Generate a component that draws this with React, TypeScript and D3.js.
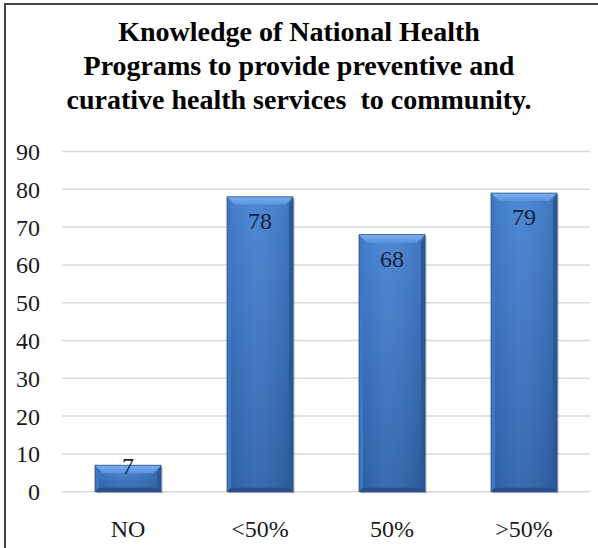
import React from "react";
import * as d3 from "d3";

const categories: string[] = ["NO", "<50%", "50%", ">50%"];
const values: number[] = [7, 78, 68, 79];
const yTicks: number[] = [0, 10, 20, 30, 40, 50, 60, 70, 80, 90];
const titleLines: string[] = [
  "Knowledge of National Health",
  "Programs to provide preventive and",
  "curative health services  to community.",
];

const W = 598;
const H = 548;
const plot = { left: 62, right: 590, top: 151.5, bottom: 491.7 };
const serif = "Liberation Serif, Times New Roman, serif";

export default function App() {
  const x = d3
    .scaleBand<string>()
    .domain(categories)
    .range([plot.left, plot.right])
    .paddingInner(0.5)
    .paddingOuter(0.25);
  const y = d3.scaleLinear().domain([0, 90]).range([plot.bottom, plot.top]);
  const bw = x.bandwidth();

  return (
    <svg
      width={W}
      height={H}
      style={{ position: "fixed", left: 0, top: 0, background: "#fff" }}
    >
      <defs>
        <linearGradient id="face" x1="0" y1="0" x2="0" y2="1">
          <stop offset="0" stopColor="#4583d3" />
          <stop offset="1" stopColor="#2f63ab" />
        </linearGradient>
        <linearGradient id="faceH" x1="0" y1="0" x2="1" y2="0">
          <stop offset="0" stopColor="#000" stopOpacity="0.06" />
          <stop offset="0.4" stopColor="#fff" stopOpacity="0.05" />
          <stop offset="1" stopColor="#000" stopOpacity="0.12" />
        </linearGradient>
        <linearGradient id="topBevel" x1="0" y1="0" x2="0" y2="1">
          <stop offset="0" stopColor="#7db2f2" />
          <stop offset="1" stopColor="#5892de" />
        </linearGradient>
      </defs>

      {/* frame */}
      <rect x={5} y={4} width={700} height={700} fill="none" stroke="#444" strokeWidth={2} />

      {/* title */}
      {titleLines.map((t, i) => (
        <text
          key={i}
          x={W / 2}
          y={41 + i * 34}
          textAnchor="middle"
          fontFamily={serif}
          fontWeight="bold"
          fontSize={28}
          fill="#000"
          style={{ whiteSpace: "pre" }}
        >
          {t}
        </text>
      ))}

      {/* grid and y labels */}
      {yTicks.map((t) => (
        <g key={t}>
          <line
            x1={plot.left}
            x2={plot.right}
            y1={y(t)}
            y2={y(t)}
            stroke="#d9d9d9"
            strokeWidth={1.5}
          />
          <text
            x={40}
            y={y(t)}
            dy="0.35em"
            textAnchor="end"
            fontFamily={serif}
            fontSize={24}
            fill="#1a1a1a"
          >
            {t}
          </text>
        </g>
      ))}

      {/* bars */}
      {categories.map((c, i) => {
        const v = values[i];
        const x0 = x(c)!;
        const x1 = x0 + bw;
        const y0 = y(v);
        const y1 = y(0);
        const bt = 8;
        const bs = 4;
        const bb = 4;
        const h = y1 - y0;
        const labelY = h < 40 ? y0 : y0 + 24;
        return (
          <g key={c}>
            <rect x={x0 + 1.5} y={y0 + 1.5} width={bw} height={h} fill="#1c3350" opacity={0.35} />
            <rect x={x0} y={y0} width={bw} height={h} fill="url(#face)" />
            <rect x={x0} y={y0} width={bw} height={h} fill="url(#faceH)" />
            {/* left bevel */}
            <polygon
              points={`${x0},${y0} ${x0 + bs},${y0 + bt} ${x0 + bs},${y1 - bb} ${x0},${y1}`}
              fill="#3f77c2"
            />
            {/* right bevel */}
            <polygon
              points={`${x1},${y0} ${x1 - bs},${y0 + bt} ${x1 - bs},${y1 - bb} ${x1},${y1}`}
              fill="#2a5898"
            />
            {/* bottom bevel */}
            <polygon
              points={`${x0},${y1} ${x0 + bs},${y1 - bb} ${x1 - bs},${y1 - bb} ${x1},${y1}`}
              fill="#26508c"
            />
            {/* top bevel */}
            <polygon
              points={`${x0},${y0} ${x1},${y0} ${x1 - bt},${y0 + bt} ${x0 + bt},${y0 + bt}`}
              fill="url(#topBevel)"
            />
            <rect x={x0} y={y0} width={bw} height={h} fill="none" stroke="#2a4f82" strokeWidth={0.8} />
            <text
              x={x0 + bw / 2}
              y={labelY}
              dy="0.35em"
              textAnchor="middle"
              fontFamily={serif}
              fontSize={24}
              fill="#152238"
            >
              {v}
            </text>
          </g>
        );
      })}

      {/* category labels */}
      {categories.map((c) => (
        <text
          key={c}
          x={x(c)! + bw / 2}
          y={529}
          dy="0.35em"
          textAnchor="middle"
          fontFamily={serif}
          fontSize={24}
          fill="#1a1a1a"
        >
          {c}
        </text>
      ))}
    </svg>
  );
}
